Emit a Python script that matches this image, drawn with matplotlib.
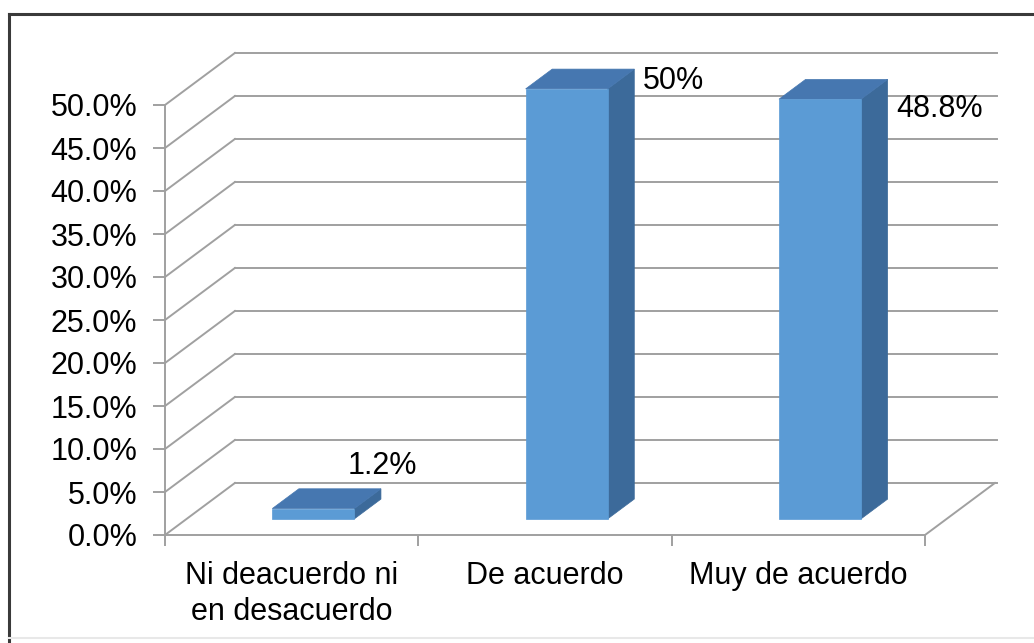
import matplotlib.pyplot as plt
from matplotlib.patches import Polygon, Rectangle
from matplotlib.lines import Line2D
import numpy as np

plt.rcParams['font.family'] = ['Liberation Sans', 'DejaVu Sans']

# datos de la encuesta
categorias = ['Ni deacuerdo ni\nen desacuerdo', 'De acuerdo', 'Muy de acuerdo']
porcentajes = [1.2, 50.0, 48.8]
etiquetas = ['1.2%', '50%', '48.8%']
niveles_y = np.arange(0, 55, 5)

# geometria del efecto 3D (unidades de datos)
DX, DY = 0.276, 6.05          # profundidad de pared/suelo
ANCHO = 0.324                 # ancho frontal de cada barra
F0, FD = 0.31, 0.38           # inicio y grosor de la barra en profundidad

C_FRENTE = '#5B9BD5'
C_TAPA = '#4677B0'
C_LADO = '#3C6A9A'
C_GRID = '#a0a0a0'

fig = plt.figure(figsize=(10.34, 6.43), dpi=100)
W, H = 1034, 643
ax = fig.add_axes([165 / W, 1 - 535 / H, (925 - 165) / W, (535 - 105) / H])
ax.set_xlim(0, 3)
ax.set_ylim(0, 50)

# marco exterior
fig.add_artist(Line2D([9 / W, 9 / W], [1 - 14 / H, 0], transform=fig.transFigure,
                      color='#3a3a3a', lw=2.2))
fig.add_artist(Line2D([9 / W, 1], [1 - 14 / H, 1 - 14 / H], transform=fig.transFigure,
                      color='#3a3a3a', lw=2.2))
fig.add_artist(Line2D([9 / W, 1], [1 - 638 / H, 1 - 638 / H], transform=fig.transFigure,
                      color='#e8e8e8', lw=1.5))

# pared lateral, pared del fondo y suelo
for v in niveles_y:
    ax.plot([0, DX], [v, v + DY], color=C_GRID, lw=1.4, clip_on=False, zorder=1)
    ax.plot([DX, 3 + DX + 0.008], [v + DY, v + DY], color=C_GRID, lw=1.4,
            clip_on=False, zorder=1)
ax.plot([3, 3 + DX], [0, DY], color=C_GRID, lw=1.4, clip_on=False, zorder=1)

# barras con caras frontal, superior y lateral
for i, v in enumerate(porcentajes):
    x0 = i + 0.5 - ANCHO / 2 + DX * F0
    y0 = DY * F0
    ddx, ddy = DX * FD, DY * FD
    lado = Polygon([(x0 + ANCHO, y0), (x0 + ANCHO + ddx, y0 + ddy),
                    (x0 + ANCHO + ddx, y0 + v + ddy), (x0 + ANCHO, y0 + v)],
                   closed=True, fc=C_LADO, ec=C_LADO, lw=0.5, clip_on=False, zorder=3)
    tapa = Polygon([(x0, y0 + v), (x0 + ANCHO, y0 + v),
                    (x0 + ANCHO + ddx, y0 + v + ddy), (x0 + ddx, y0 + v + ddy)],
                   closed=True, fc=C_TAPA, ec=C_TAPA, lw=0.5, clip_on=False, zorder=3)
    frente = Rectangle((x0, y0), ANCHO, v, fc=C_FRENTE, ec=C_FRENTE, lw=0.5,
                       clip_on=False, zorder=4)
    for p in (lado, tapa, frente):
        ax.add_patch(p)

# etiquetas de datos
desplazamientos = [(1, 23), (39, -12), (52, -30)]
for i, v in enumerate(porcentajes):
    x0 = i + 0.5 - ANCHO / 2 + DX * F0
    esquina = (x0 + ANCHO + DX * FD, DY * F0 + v + DY * FD)
    ax.annotate(etiquetas[i], xy=esquina, xytext=desplazamientos[i],
                textcoords='offset pixels', ha='center', va='center',
                fontsize=22, color='black', zorder=5, annotation_clip=False)

# ejes
for s in ['top', 'right']:
    ax.spines[s].set_visible(False)
for s in ['left', 'bottom']:
    ax.spines[s].set_color(C_GRID)
    ax.spines[s].set_linewidth(1.4)
ax.set_facecolor('none')

ax.set_yticks(niveles_y)
ax.set_yticklabels([f'{v:.1f}%' for v in niveles_y], fontsize=22)
ax.tick_params(axis='y', direction='out', length=9, width=1.4, color=C_GRID, pad=11)

ax.set_xticks([0, 1, 2, 3])
ax.set_xticklabels([])
ax.tick_params(axis='x', which='major', direction='out', length=8, width=1.4, color=C_GRID)
ax.set_xticks([0.5, 1.5, 2.5], minor=True)
ax.set_xticklabels(categorias, minor=True, fontsize=22, linespacing=1.25)
ax.tick_params(axis='x', which='minor', length=0, pad=19)

fig.savefig('out.png', dpi=100)
